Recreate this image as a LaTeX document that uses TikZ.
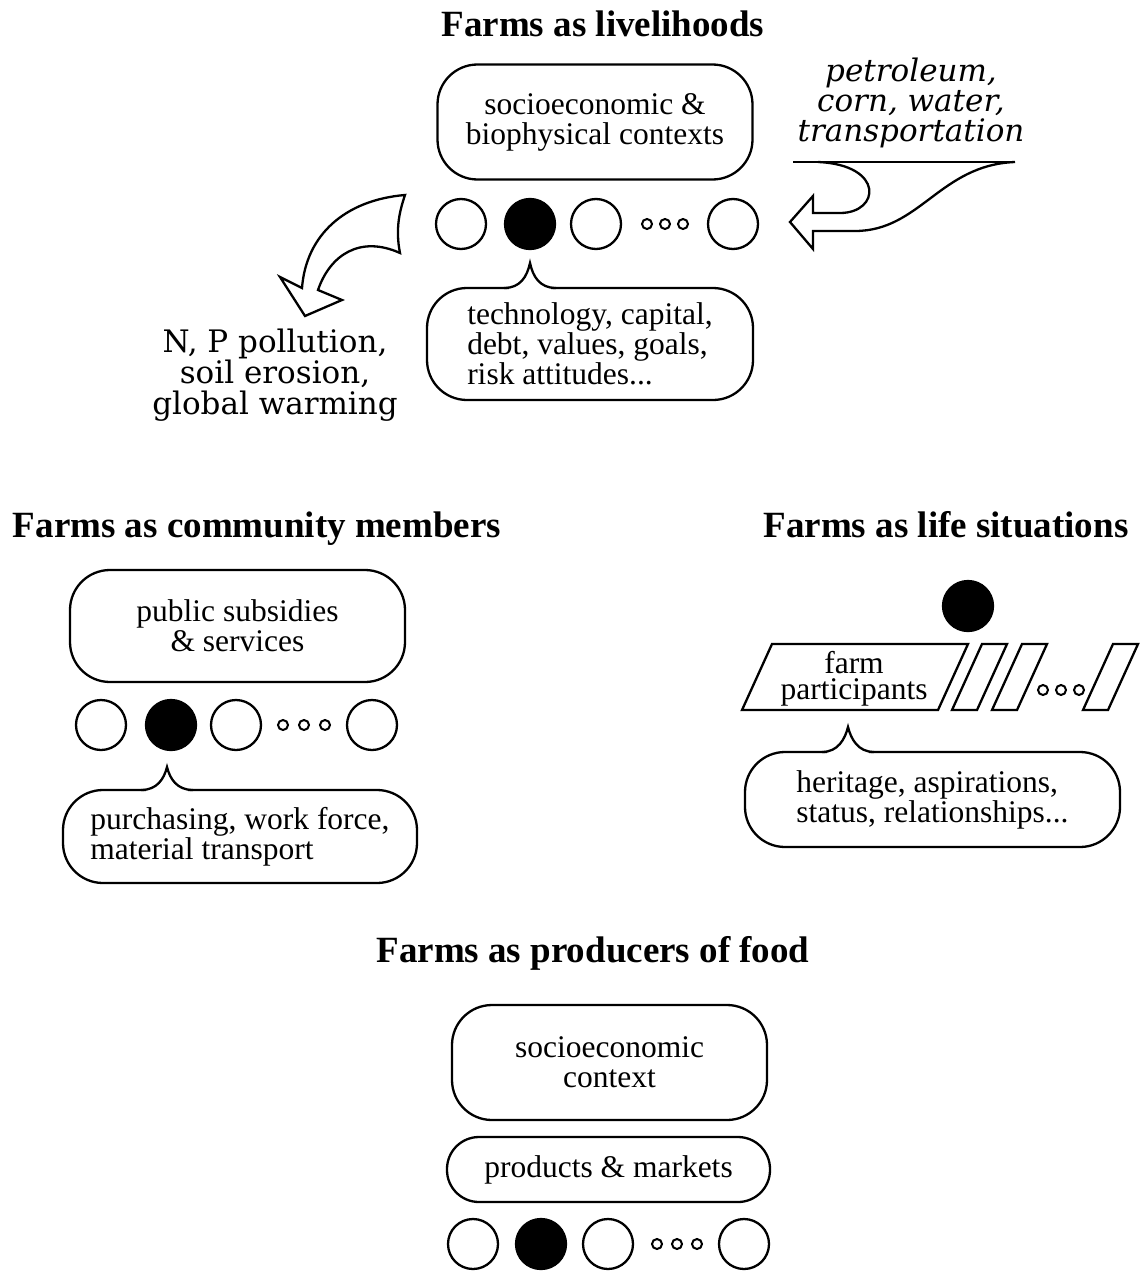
\documentclass[tikz,border=0pt]{standalone}
\usepackage{fontspec}
\setmainfont{Liberation Serif}
\newfontfamily\bookfont{DejaVu Serif}
\usetikzlibrary{shapes.misc, positioning}

\tikzset{
  ctxbox/.style={draw, rounded corners=40pt, align=center, inner sep=0pt},
  bubble/.style={draw, rounded corners=40pt, align=left, inner sep=0pt},
  farm/.style={draw, circle, minimum size=50pt, inner sep=0pt},
  dot/.style={draw, circle, minimum size=10pt, inner sep=0pt, line width=2pt},
  heading/.style={font=\fontsize{37}{44}\selectfont\bfseries, anchor=base},
  flowtext/.style={font=\bookfont\fontsize{31}{31}\selectfont, align=center},
}

\begin{document}
\begin{tikzpicture}[x=1pt, y=-1pt, every path/.style={line width=2.3pt}, font=\fontsize{31.5}{30}\selectfont]
  \useasboundingbox (0,0) rectangle (1143,1279);

  % headings
  \node[heading] (live) at (603,37) {Farms as livelihoods};
  \node[heading] (comm) at (257,537) {Farms as community members};
  \node[heading] (life) at (946,537) {Farms as life situations};
  \node[heading] (food) at (593,962) {Farms as producers of food};

  % livelihoods
  \node[ctxbox, minimum width=315pt, minimum height=115pt] (bio) at (595,122) {socioeconomic \&\\biophysical contexts};
  \node[farm] (l1) at (461,224) {};
  \node[farm, fill=black] (l2) at (530,224) {};
  \node[farm] (l3) at (596,224) {};
  \node[farm] (l4) at (733,224) {};
  \foreach \x in {647,665,683} \node[dot] at (\x,224) {};
  \node[bubble, minimum width=326pt, minimum height=112pt] (tech) at (590,344) {technology, capital,\\debt, values, goals,\\risk attitudes...};
  \fill[white] (509,286) rectangle (551,290.5);
  \draw (504,288) .. controls (520,288) and (527,277) .. (530,263) .. controls (533,277) and (540,288) .. (556,288);

  \node[flowtext, font=\bookfont\itshape\fontsize{31}{30}\selectfont] (inputs) at (911,103) {petroleum,\\corn, water,\\transportation};
  \draw (793,162) -- (1015,162);
  \draw (818,162) .. controls (885,165) and (880,213) .. (840,213) -- (813,213) -- (813,196) -- (790,222) -- (813,249) -- (813,231) -- (855,231) .. controls (920,231) and (940,165) .. (1015,162);

  \node[flowtext] (outputs) at (275,375) {N, P pollution,\\soil erosion,\\global warming};
  \draw (405,195) .. controls (345,200) and (306,235) .. (302,288) -- (280,277) -- (305,316) -- (342,300) -- (318,290) .. controls (330,255) and (360,235) .. (400,253) .. controls (395,228) and (400,210) .. (405,195) -- cycle;

  % community members
  \node[ctxbox, minimum width=335pt, minimum height=112pt] (subs) at (237.5,626) {public subsidies\\\& services};
  \node[farm] (c1) at (101,725) {};
  \node[farm, fill=black] (c2) at (171,725) {};
  \node[farm] (c3) at (236,725) {};
  \node[farm] (c4) at (372,725) {};
  \foreach \x in {283,304,325} \node[dot] at (\x,725) {};
  \node[bubble, minimum width=354pt, minimum height=93pt] (work) at (240,836.5) {purchasing, work force,\\material transport};
  \fill[white] (146,788) rectangle (188,792.5);
  \draw (141,790) .. controls (157,790) and (164,779) .. (167,767) .. controls (170,779) and (177,790) .. (193,790);

  % life situations
  \node[farm, fill=black] (me) at (968,606) {};
  \draw (742,710) -- (772,644) -- (968,644) -- (938,710) -- cycle;
  \foreach \x in {952,992,1083} \draw (\x,710) -- ++(30,-66) -- ++(25,0) -- ++(-30,66) -- cycle;
  \foreach \x in {1043,1061,1079} \node[dot] at (\x,690) {};
  \node[font=\fontsize{31.5}{26}\selectfont, align=center] (part) at (854,679) {farm\\participants};
  \node[bubble, minimum width=375pt, minimum height=95pt] (heri) at (932.5,799.5) {heritage, aspirations,\\status, relationships...};
  \fill[white] (827,750) rectangle (869,754.5);
  \draw (822,752) .. controls (838,752) and (845,739) .. (848,727) .. controls (851,739) and (858,752) .. (874,752);

  % producers of food
  \node[ctxbox, minimum width=315pt, minimum height=115pt] (mkt) at (609.5,1062.5) {socioeconomic\\context};
  \node[draw, rounded corners=32pt, minimum width=323pt, minimum height=65pt, inner sep=0pt] (prod) at (608.5,1169.5) {products \& markets};
  \node[farm] (f1) at (473,1244) {};
  \node[farm, fill=black] (f2) at (541,1244) {};
  \node[farm] (f3) at (608,1244) {};
  \node[farm] (f4) at (744,1244) {};
  \foreach \x in {657,677,697} \node[dot] at (\x,1244) {};
\end{tikzpicture}
\end{document}
